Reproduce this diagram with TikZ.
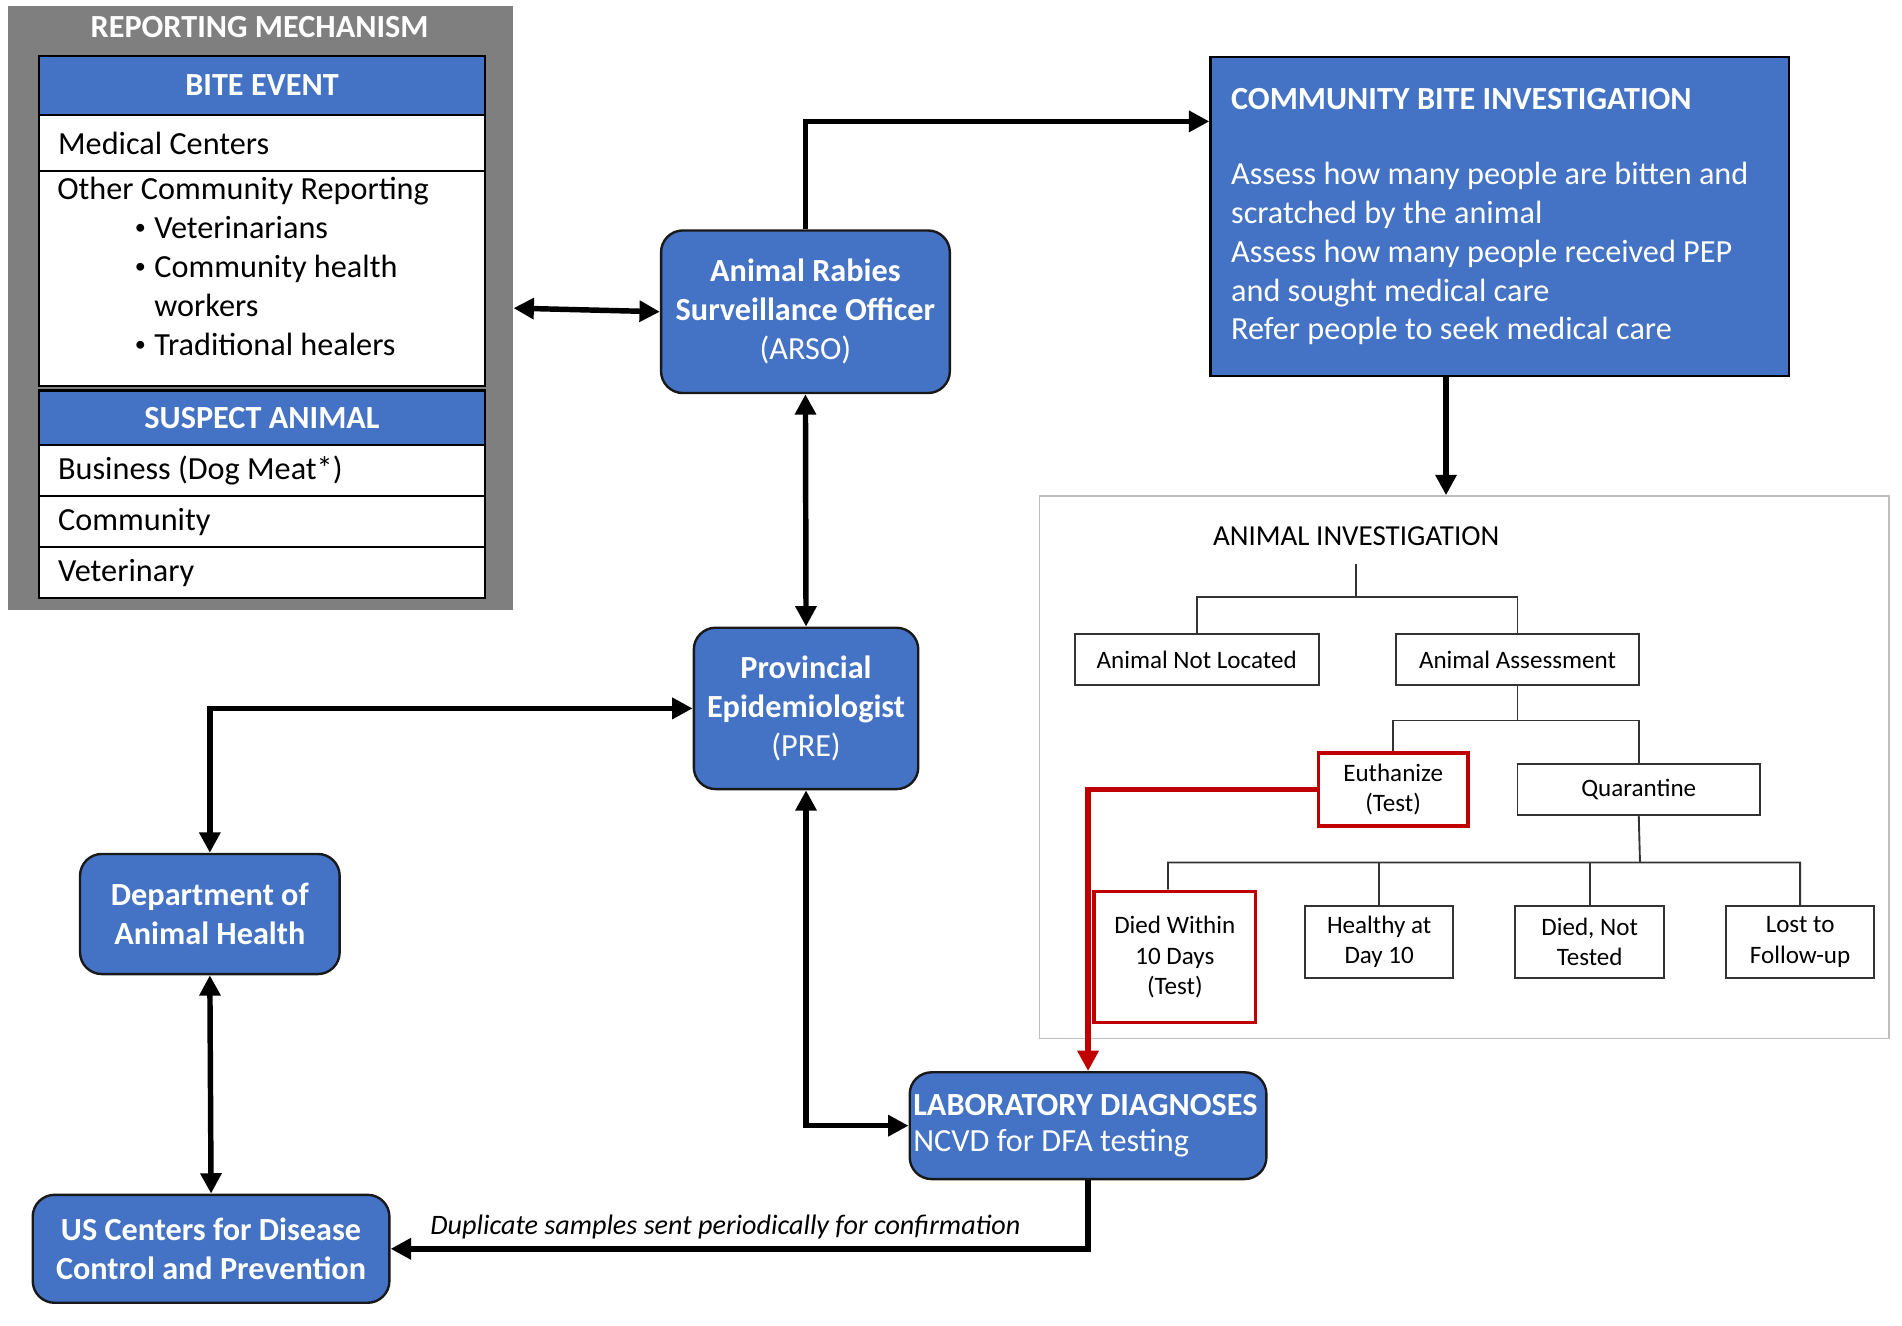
\documentclass[tikz,border=0pt]{standalone}
\usepackage{fontspec}
\setmainfont{Carlito}
\usetikzlibrary{arrows.meta}

\definecolor{ofblue}{HTML}{4472C4}
\definecolor{ofred}{HTML}{C00000}
\definecolor{repgray}{HTML}{7F7F7F}

\newcommand{\mainsize}{\fontsize{18.9}{22.8}\selectfont}
\newcommand{\treesize}{\fontsize{14.7}{17.8}\selectfont}
\newcommand{\repbul}{\hspace*{1.6cm}\makebox[0.4cm][l]{\raisebox{0.12em}{\fontsize{13}{13}\selectfont •}}}

\tikzset{
  office/.style={draw=black!90, line width=1.4pt, fill=ofblue, rounded corners=0.45cm,
    text=white, font=\mainsize\bfseries, align=center, inner sep=0pt},
  rephead/.style={draw=black, line width=1.4pt, fill=ofblue, text=white,
    font=\mainsize\bfseries, minimum width=9.2cm, inner sep=0pt},
  reprow/.style={draw=black, line width=1.4pt, fill=white, font=\mainsize,
    text width=8.4cm, inner xsep=0.4cm, inner ysep=0pt, align=flush left},
  treebox/.style={draw=black!80, line width=1.1pt, fill=white, font=\treesize,
    align=center, inner sep=0pt},
  testbox/.style={treebox, draw=ofred, line width=2.2pt},
  treeline/.style={draw=black!80, line width=1.1pt},
  arr/.style={->, line width=3.2pt},
  dblarr/.style={<->, line width=3.2pt}
}

\begin{document}
\begin{tikzpicture}[x=0.025cm,y=-0.025cm,>={Triangle[length=0.42cm,width=0.42cm]}]
  \useasboundingbox (0,0) rectangle (1568,1093);

  % reporting mechanism
  \node[fill=repgray, minimum width=10.4cm, minimum height=12.45cm, inner sep=0pt] (repbox) at (215,254) {};
  \node[text=white, font=\mainsize\bfseries] (reptitle) at (214,22) {REPORTING MECHANISM};
  \node[rephead, minimum height=1.225cm] (bite) at (216,70.5) {BITE EVENT};
  \node[reprow, minimum height=1.15cm] (medical) at (216,118) {Medical Centers};
  \node[reprow, minimum height=4.425cm] (other) at (216,229.5) {};
  \node[anchor=north west, font=\mainsize, align=left, inner xsep=0.4cm, inner ysep=0.15cm] (othertxt) at (other.north west)
    {Other Community Reporting\\ \repbul Veterinarians\\ \repbul Community health\\
     \hspace*{2cm}workers\\ \repbul Traditional healers};
  \node[rephead, minimum height=1.125cm] (suspect) at (216,344.5) {SUSPECT ANIMAL};
  \node[reprow, minimum height=1.05cm] (business) at (216,388) {Business (Dog Meat*)};
  \node[reprow, minimum height=1.05cm] (community) at (216,430) {Community};
  \node[reprow, minimum height=1.05cm] (vetrow) at (216,472) {Veterinary};

  % blue boxes
  \node[office, minimum width=5.95cm, minimum height=3.35cm] (arso) at (664,257)
    {Animal Rabies\\Surveillance Officer\\{\mdseries (ARSO)}};
  \node[office, minimum width=4.625cm, minimum height=3.325cm] (pre) at (664.5,584)
    {Provincial\\Epidemiologist\\{\mdseries (PRE)}};
  \node[office, minimum width=5.35cm, minimum height=2.475cm] (dah) at (173,753.5)
    {Department of\\Animal Health};
  \node[office, minimum width=7.35cm, minimum height=2.225cm] (cdc) at (174,1029.5)
    {US Centers for Disease\\Control and Prevention};
  \node[office, align=flush left, text width=7.2cm, inner xsep=0.075cm, minimum height=2.2cm,
    font=\fontsize{18.9}{21.3}\selectfont\bfseries] (lab) at (897,928)
    {\mbox{LABORATORY DIAGNOSES}\\{\mdseries NCVD for DFA testing}};
  \node[draw=black, line width=1.4pt, fill=ofblue, text=white, font=\mainsize, align=flush left,
    text width=11.075cm, inner xsep=0.425cm, minimum height=6.575cm] (cbi) at (1236.5,178.5)
    {\textbf{COMMUNITY BITE INVESTIGATION}\\[0.75cm]
     Assess how many people are bitten and\\
     scratched by the animal\\
     Assess how many people received PEP\\
     and sought medical care\\
     Refer people to seek medical care};

  % animal investigation
  \node[draw=black!25, line width=1pt, minimum width=17.5cm, minimum height=11.175cm] (aibox) at (1207,632.5) {};
  \node[font=\fontsize{17}{20}\selectfont] (aititle) at (1118,442) {ANIMAL INVESTIGATION};
  \node[treebox, minimum width=5.025cm, minimum height=1.05cm] (notloc) at (986.5,544) {Animal Not Located};
  \node[treebox, minimum width=5cm, minimum height=1.05cm] (assess) at (1251,544) {Animal Assessment};
  \node[testbox, minimum width=3.075cm, minimum height=1.5cm] (euth) at (1148.5,651) {Euthanize\\(Test)};
  \node[treebox, minimum width=5cm, minimum height=1.05cm] (quar) at (1351,651) {Quarantine};
  \node[testbox, minimum width=3.325cm, minimum height=2.7cm] (died10) at (968.5,789) {Died Within\\10 Days\\(Test)};
  \node[treebox, minimum width=3.05cm, minimum height=1.475cm] (healthy) at (1137,776.5) {Healthy at\\Day 10};
  \node[treebox, minimum width=3.075cm, minimum height=1.475cm] (diednt) at (1310.5,776.5) {Died, Not\\Tested};
  \node[treebox, minimum width=3.05cm, minimum height=1.475cm] (lost) at (1484,776.5) {Lost to\\Follow-up};

  \coordinate (j1) at (1118,492);
  \coordinate (j2) at (1251,594);
  \coordinate (j3) at (1352,711);
  \draw[treeline] ([yshift=-0.25cm]aititle.south) -- (j1) (notloc.north) |- (j1) -| (assess.north);
  \draw[treeline] (assess.south) -- (j2) (euth.north) |- (j2) -| (quar.north);
  \draw[treeline] (quar.south) -- (j3) ([xshift=-0.14cm]died10.north) |- (j3) -| (lost.north);
  \draw[treeline] (healthy.north) -- (healthy.north |- j3) (diednt.north) -- (diednt.north |- j3);

  % connectors
  \draw[dblarr] (repbox.east) -- (arso.west);
  \draw[arr] (arso.north) |- ([yshift=1.96cm]cbi.west);
  \draw[arr] ([xshift=-1.11cm]cbi.south) -- ([xshift=-1.11cm]cbi.south |- aibox.north);
  \draw[dblarr] (arso.south) -- (pre.north);
  \draw[dblarr] (pre.west) -| (dah.north);
  \draw[dblarr] (pre.south) |- (lab.west);
  \draw[dblarr] (dah.south) -- (cdc.north);
  \draw[arr] (lab.south) |- (cdc.east)
    node[pos=0.76, above=1pt, font=\fontsize{16.5}{19}\selectfont\itshape] (duplabel)
    {Duplicate samples sent periodically for confirmation};
  \draw[arr, ofred] (euth.west) -| (lab.north);
\end{tikzpicture}
\end{document}
